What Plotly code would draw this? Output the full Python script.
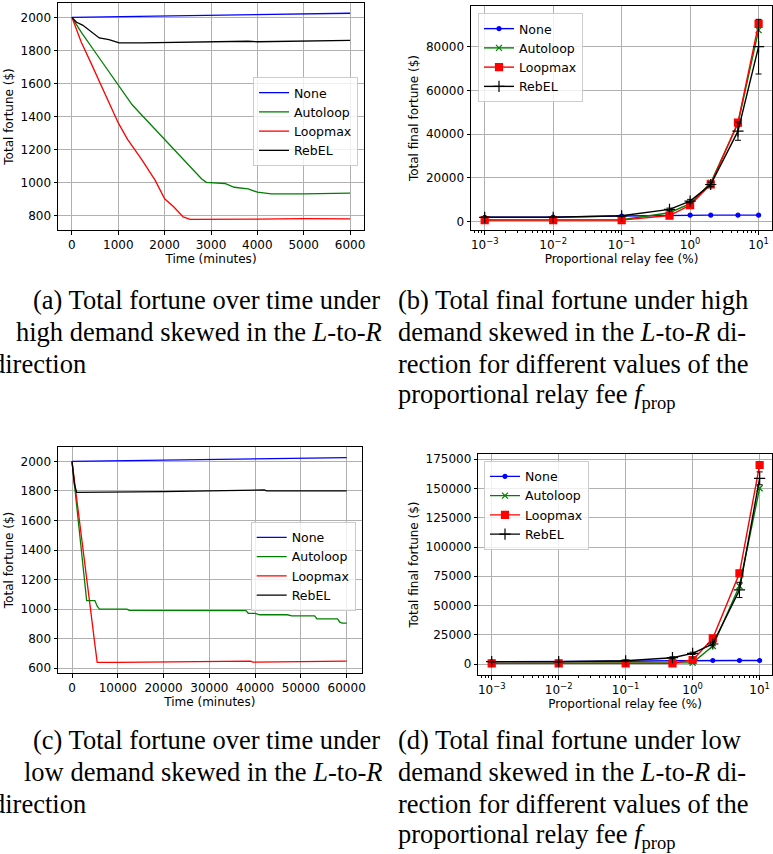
import plotly.graph_objects as go

# ---------------- data ----------------
# (a) high demand, time series (minutes, $)
a_none_t = [0, 1000, 2000, 3000, 4000, 5000, 6000]
a_none_v = [2000, 2004, 2008, 2012, 2016, 2020, 2025]
a_auto_t = [0, 200, 500, 1000, 1300, 1500, 2000, 2500, 2800, 2900, 3000, 3300, 3500, 3800, 4000, 4300, 5000, 6000]
a_auto_v = [2000, 1910, 1790, 1590, 1470, 1410, 1260, 1115, 1020, 1000, 998, 993, 970, 960, 940, 930, 930, 935]
a_loop_t = [0, 200, 400, 600, 800, 1000, 1200, 1500, 1800, 2000, 2200, 2400, 2550, 3000, 4000, 5000, 6000]
a_loop_v = [2000, 1850, 1730, 1610, 1490, 1360, 1260, 1140, 1010, 900, 850, 790, 775, 775, 777, 780, 778]
a_rebel_t = [0, 100, 230, 450, 590, 800, 950, 1020, 1500, 2000, 3000, 3800, 4000, 5000, 6000]
a_rebel_v = [2000, 1970, 1953, 1902, 1875, 1865, 1851, 1845, 1845, 1848, 1850, 1855, 1852, 1855, 1860]

# (c) low demand, time series
c_none_t = [0, 10000, 20000, 30000, 40000, 50000, 60000]
c_none_v = [2000, 2004, 2008, 2012, 2017, 2021, 2025]
c_auto_t = [0, 1000, 2000, 3000, 3200, 5000, 5500, 6000, 12000, 12500, 25000, 25500, 38000, 38500, 40000, 41000,
            47000, 48000, 53000, 53500, 58000, 58500, 59000, 60000]
c_auto_v = [2000, 1700, 1390, 1070, 1058, 1058, 1020, 1000, 1000, 992, 992, 990, 990, 972, 972, 962,
            962, 955, 955, 934, 934, 912, 906, 906]
c_loop_t = [0, 1000, 2000, 3000, 4000, 5000, 5500, 10000, 20000, 30000, 39000, 39500, 50000, 60000]
c_loop_v = [2000, 1760, 1520, 1270, 1010, 760, 640, 640, 643, 645, 648, 642, 645, 648]
c_rebel_t = [0, 500, 1000, 10000, 20000, 30000, 40000, 42000, 42500, 50000, 60000]
c_rebel_v = [2000, 1850, 1790, 1790, 1795, 1800, 1806, 1806, 1800, 1800, 1800]

# (b)/(d) proportional relay fee (%)
fees = [0.001, 0.01, 0.1, 0.5, 1, 2, 5, 10]
b_none = [2000, 2100, 2600, 3000, 3000, 3000, 3000, 3000]
b_auto = [800, 800, 900, 4100, 8200, 17800, 45000, 87600]
b_loop = [700, 700, 700, 2800, 7600, 17100, 45300, 90400]
b_rebel = [2000, 2000, 2700, 5600, 9400, 17000, 41400, 80000]
b_rebel_err = [100, 100, 200, 600, 800, 1000, 4200, 12500]

d_none = [2000, 2000, 2300, 2800, 3000, 3000, 3000, 3000]
d_auto = [700, 700, 700, 600, 1100, 15400, 66700, 150200]
d_loop = [500, 500, 500, 600, 3400, 21900, 77500, 170100]
d_rebel = [2000, 2000, 2800, 5400, 9100, 17100, 63300, 158700]
d_rebel_err = [200, 200, 300, 800, 1000, 1500, 6500, 5500]

log_tickvals = [0.001, 0.01, 0.1, 1, 10]
log_ticktext = ["10<sup>\u22123</sup>", "10<sup>\u22122</sup>", "10<sup>\u22121</sup>", "10<sup>0</sup>", "10<sup>1</sup>"]

names = ["None", "Autoloop", "Loopmax", "RebEL"]
colors = ["#0000ff", "#008000", "#ff0000", "#000000"]

W, H = 773, 854

def px(x):
    return x / W

def py(y):
    return 1 - y / H

fig = go.Figure()

# time-series panels
for (ts, leg, xa, ya) in [
    ([(a_none_t, a_none_v), (a_auto_t, a_auto_v), (a_loop_t, a_loop_v), (a_rebel_t, a_rebel_v)], "legend", "x", "y"),
    ([(c_none_t, c_none_v), (c_auto_t, c_auto_v), (c_loop_t, c_loop_v), (c_rebel_t, c_rebel_v)], "legend3", "x3", "y3"),
]:
    for i, (t, v) in enumerate(ts):
        fig.add_trace(go.Scatter(x=t, y=v, mode="lines", name=names[i],
                                 line=dict(color=colors[i], width=1.3),
                                 xaxis=xa, yaxis=ya, legend=leg))

symbols = ["circle", "x-thin", "square", "cross-thin"]
sizes = [4, 6, 7, 8]
for (series, err, leg, xa, ya) in [
    ([b_none, b_auto, b_loop, b_rebel], b_rebel_err, "legend2", "x2", "y2"),
    ([d_none, d_auto, d_loop, d_rebel], d_rebel_err, "legend4", "x4", "y4"),
]:
    for i, v in enumerate(series):
        kw = {}
        if i == 3:
            kw["error_y"] = dict(type="data", array=err, visible=True, color="black", thickness=1, width=3)
        fig.add_trace(go.Scatter(x=fees, y=v, mode="lines+markers", name=names[i],
                                 line=dict(color=colors[i], width=1.4),
                                 marker=dict(symbol=symbols[i], size=sizes[i], color=colors[i],
                                             line=dict(color=colors[i], width=1.2)),
                                 xaxis=xa, yaxis=ya, legend=leg, **kw))

tickfont = dict(family="DejaVu Sans", size=12, color="black")
common = dict(showline=True, mirror=True, linecolor="black", linewidth=1,
              ticks="outside", ticklen=3.5, tickcolor="black", tickwidth=1,
              showgrid=True, gridcolor="#b0b0b0", gridwidth=0.8, zeroline=False,
              tickfont=tickfont, automargin=False, tickformat="d")

def title(t, standoff=None):
    d = dict(text=t, font=dict(family="DejaVu Sans", size=12, color="black"))
    if standoff is not None:
        d["standoff"] = standoff
    return d

logcommon = dict(common)
logcommon.pop("tickformat")

fig.update_layout(
    width=W, height=H, margin=dict(l=0, r=0, t=0, b=0),
    paper_bgcolor="white", plot_bgcolor="white",
    font=dict(family="DejaVu Sans", size=12, color="black"),
    xaxis=dict(domain=[px(58), px(364)], range=[-300, 6300], tickvals=[0, 1000, 2000, 3000, 4000, 5000, 6000],
               title=title("Time (minutes)", 2), anchor="y", **common),
    yaxis=dict(domain=[py(230), py(3)], range=[711, 2087], tickvals=[800, 1000, 1200, 1400, 1600, 1800, 2000],
               title=title("Total fortune ($)", 4), anchor="x", **common),
    xaxis2=dict(domain=[px(471), px(772)], type="log", range=[-3.2, 1.196], tickvals=log_tickvals, ticktext=log_ticktext,
                minor=dict(ticks="outside", ticklen=2, tickcolor="black", dtick="D1", showgrid=False),
                title=title("Proportional relay fee (%)", 2), anchor="y2", **logcommon),
    yaxis2=dict(domain=[py(230), py(6)], range=[-3800, 98600], tickvals=[0, 20000, 40000, 60000, 80000],
                title=title("Total final fortune ($)", 4), anchor="x2", **common),
    xaxis3=dict(domain=[px(58), px(361.7)], range=[-3060, 63280],
                tickvals=[0, 10000, 20000, 30000, 40000, 50000, 60000],
                title=title("Time (minutes)", 2), anchor="y3", **common),
    yaxis3=dict(domain=[py(673.3), py(446.7)], range=[566, 2099],
                tickvals=[600, 800, 1000, 1200, 1400, 1600, 1800, 2000],
                title=title("Total fortune ($)", 4), anchor="x3", **common),
    xaxis4=dict(domain=[px(478.3), px(772)], type="log", range=[-3.2, 1.185], tickvals=log_tickvals, ticktext=log_ticktext,
                minor=dict(ticks="outside", ticklen=2, tickcolor="black", dtick="D1", showgrid=False),
                title=title("Proportional relay fee (%)", 2), anchor="y4", **logcommon),
    yaxis4=dict(domain=[py(675), py(454)], range=[-9400, 179500],
                tickvals=[0, 25000, 50000, 75000, 100000, 125000, 150000, 175000],
                title=title("Total final fortune ($)", 4), anchor="x4", **common),
)

legcommon = dict(bgcolor="rgba(255,255,255,0.8)", bordercolor="#cccccc", borderwidth=1,
                 font=dict(family="DejaVu Sans", size=12.5, color="black"),
                 xanchor="left", yanchor="top", itemwidth=30, tracegroupgap=0)
fig.update_layout(
    legend=dict(x=px(253), y=py(77), **legcommon),
    legend2=dict(x=px(478), y=py(13), **legcommon),
    legend3=dict(x=px(250.7), y=py(521.7), **legcommon),
    legend4=dict(x=px(484), y=py(460.7), **legcommon),
)

# captions
cap_font = dict(family="Liberation Serif", size=26.5, color="black")
captions = [
    # (text, x_px, y_px, anchor)
    ("(a) Total fortune over time under", 382, 300, "right"),
    ("high demand skewed in the <i>L</i>-to-<i>R</i>", 384, 332, "right"),
    ("direction", -10, 364, "left"),
    ("(b) Total final fortune under high", 396, 300, "left"),
    ("demand skewed in the <i>L</i>-to-<i>R</i> di-", 396, 332, "left"),
    ("rection for different values of the", 396, 364, "left"),
    ("proportional relay fee <i>f</i><sub>prop</sub>", 396, 396, "left"),
    ("(c) Total fortune over time under", 382, 740, "right"),
    ("low demand skewed in the <i>L</i>-to-<i>R</i>", 384, 772, "right"),
    ("direction", -10, 804, "left"),
    ("(d) Total final fortune under low", 396, 740, "left"),
    ("demand skewed in the <i>L</i>-to-<i>R</i> di-", 396, 772, "left"),
    ("rection for different values of the", 396, 804, "left"),
    ("proportional relay fee <i>f</i><sub>prop</sub>", 396, 836, "left"),
]
for text, x, y, anc in captions:
    fig.add_annotation(text=text, x=px(x), y=py(y), xref="paper", yref="paper",
                       xanchor=anc, yanchor="middle", showarrow=False, font=cap_font)

fig.write_html("out.html", config={"displayModeBar": False},
               post_script="document.body.style.margin='0';document.body.style.overflow='hidden';")
